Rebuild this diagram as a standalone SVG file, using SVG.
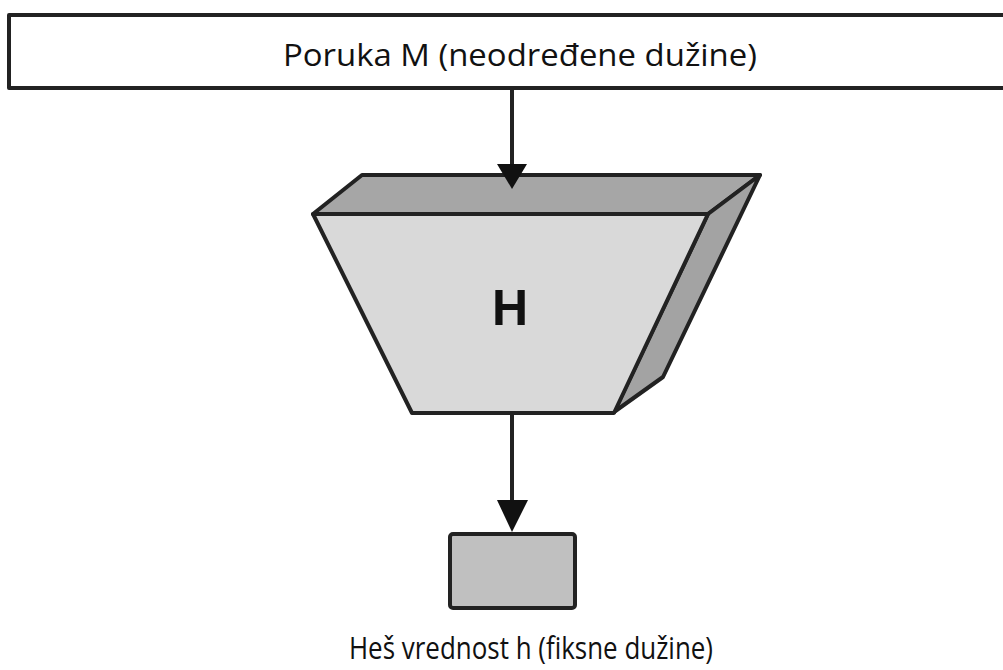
<svg xmlns="http://www.w3.org/2000/svg" width="1003" height="670" viewBox="0 0 1003 670">
  <style>
    .label { font-family: "Open Sans", "Noto Sans", "Liberation Sans", sans-serif; fill: #111; }
    .edge { stroke: #222; stroke-width: 4; stroke-linejoin: round; }
    .conn { stroke: #222; stroke-width: 4; fill: none; }
  </style>

  <rect width="1003" height="670" fill="#ffffff"/>

  <!-- input message bar -->
  <g id="message">
    <rect x="9" y="15" width="1010" height="73" fill="#ffffff" class="edge"/>
    <text class="label" x="520" y="66" font-size="31" text-anchor="middle" textLength="474" lengthAdjust="spacingAndGlyphs">Poruka M (neodređene dužine)</text>
  </g>

  <!-- hash function block -->
  <g id="hash-function">
    <polygon class="edge" fill="#a6a6a6" points="362,175 760,175 708,214 313,214"/>
    <polygon class="edge" fill="#a3a3a3" points="760,175 708,214 614,412 663,377"/>
    <polygon class="edge" fill="#d9d9d9" points="313,214 708,214 614,413 412,413"/>
    <text x="510" y="325" font-family="Liberation Sans, Arial, sans-serif" font-weight="bold" font-size="50" text-anchor="middle" fill="#111">H</text>
  </g>

  <!-- hash value -->
  <g id="hash-value">
    <rect x="450" y="534" width="125" height="74" rx="3" fill="#c0c0c0" class="edge"/>
    <text class="label" x="531" y="659" font-size="31" text-anchor="middle" textLength="364" lengthAdjust="spacingAndGlyphs">Heš vrednost h (fiksne dužine)</text>
  </g>

  <!-- connectors, drawn over the blocks so the arrowheads stay visible -->
  <g id="connectors">
    <line class="conn" x1="512" y1="88" x2="512" y2="168"/>
    <path d="M497,164 L527,164 L512,189 Z" fill="#111"/>
    <line class="conn" x1="512" y1="415" x2="512" y2="504"/>
    <path d="M497,500 L528,500 L512,532 Z" fill="#111"/>
  </g>
</svg>
